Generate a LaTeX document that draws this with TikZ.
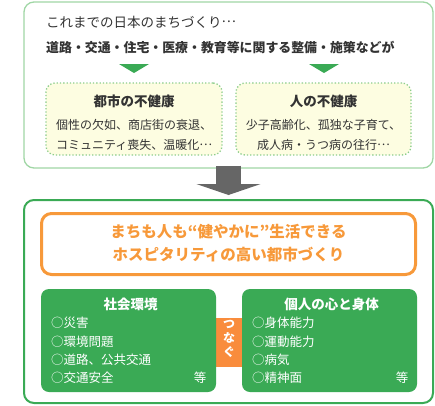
\documentclass[tikz,border=0pt]{standalone}
\usepackage{fontspec}
\setmainfont{Noto Sans CJK JP}
\newcommand\cjkdots{\raisebox{0.33em}{…}}
\usetikzlibrary{positioning, calc, arrows.meta}
\definecolor{palegreen}{RGB}{160,214,165}
\definecolor{leafgreen}{RGB}{58,170,85}
\definecolor{dotgreen}{RGB}{140,205,140}
\definecolor{creamfill}{RGB}{253,253,225}
\definecolor{townorange}{RGB}{247,153,58}
\definecolor{linkorange}{RGB}{249,140,60}
\definecolor{arrowgray}{RGB}{102,102,102}
\definecolor{inkgray}{RGB}{51,51,51}

\tikzset{
  pastbox/.style={draw=palegreen, line width=1.3pt, rounded corners=10pt,
                  minimum width=409pt, minimum height=166pt},
  futurebox/.style={draw=leafgreen, line width=2pt, rounded corners=10pt,
                  minimum width=409pt, minimum height=203pt},
  illbox/.style={draw=dotgreen, fill=creamfill, line width=1.3pt, dotted,
                  rounded corners=9pt, minimum width=176pt, minimum height=72pt},
  goalbox/.style={draw=townorange, line width=3pt, rounded corners=10pt,
                  minimum width=374pt, minimum height=61pt},
  sidebox/.style={fill=leafgreen, rounded corners=8pt,
                  minimum width=175pt, minimum height=103pt},
  linkbox/.style={fill=linkorange, minimum width=26pt, minimum height=49pt},
  downtri/.style={fill=leafgreen},
  bigarrow/.style={draw=arrowgray, line width=25pt,
                  -{Triangle[width=64pt,length=11pt]}},
  leadtxt/.style={text=inkgray, anchor=west, inner sep=0pt,
                  font=\fontsize{13.5pt}{16pt}\selectfont},
  causetxt/.style={text=inkgray, anchor=west, inner sep=0pt,
                  font=\fontsize{12.9pt}{16pt}\selectfont\bfseries},
  illtitle/.style={text=inkgray, inner sep=0pt,
                  font=\fontsize{13.5pt}{16pt}\selectfont\bfseries},
  illtxt/.style={text=inkgray, inner sep=0pt, align=center,
                  font=\fontsize{12pt}{20pt}\selectfont},
  goaltxt/.style={text=townorange, inner sep=0pt, align=center,
                  font=\fontsize{15.5pt}{23pt}\selectfont\bfseries},
  sidetitle/.style={text=white, inner sep=0pt,
                  font=\fontsize{13.5pt}{16pt}\selectfont\bfseries},
  sidelist/.style={text=white, inner sep=0pt, anchor=west, align=left,
                  font=\fontsize{12.5pt}{18.3pt}\selectfont},
  etctxt/.style={text=white, inner sep=0pt,
                  font=\fontsize{12.5pt}{16pt}\selectfont},
  linktxt/.style={text=white, inner sep=0pt, align=center,
                  font=\fontsize{12pt}{14pt}\selectfont\bfseries}
}

\begin{document}
\begin{tikzpicture}[x=1pt, y=-1pt]
    \useasboundingbox (0,0) rectangle (435,405);
    % Upper frame: town planning so far
    \node[pastbox] (past) at (228.5,85) {};
    \node[leadtxt] (lead) at (46,22) {これまでの日本のまちづくり\cjkdots};
    \node[causetxt] (cause) at (46,47) {道路・交通・住宅・医療・教育等に関する整備・施策などが};
    \fill[downtri] (119,64) -- (149,64) -- (134,73) -- cycle;
    \fill[downtri] (309,64) -- (339,64) -- (324,73) -- cycle;
    % Two kinds of ill health
    \node[illbox] (townill) at (134,119) {};
    \node[illbox, minimum width=175pt] (folkill) at (323.5,119) {};
    \node[illtitle] at (134,101) {都市の不健康};
    \node[illtxt] at (134,135) {個性の欠如、商店街の衰退、\\コミュニティ喪失、温暖化\cjkdots};
    \node[illtitle] at (323.5,101) {人の不健康};
    \node[illtxt] at (323.5,135) {少子高齢化、孤独な子育て、\\成人病・うつ病の往行\cjkdots};
    % Lower frame: the aim
    \node[futurebox] (future) at (228.5,301.5) {};
    \draw[bigarrow] ([yshift=3pt]past.south) -- ([yshift=4pt]future.north);
    \node[goalbox] (goal) at (228.5,244) {};
    \node[goaltxt] at (228.5,243.5) {まちも人も“健やかに”生活できる\\ホスピタリティの高い都市づくり};
    % Society and the person, linked
    \node[linkbox] (link) at (229,342.5) {};
    \node[sidebox] (society) at (128.5,340.5) {};
    \node[sidebox] (person) at (329.5,340.5) {};
    \node[linktxt] at (229,339) {つ\\な\\ぐ};
    \node[sidetitle] at (130.5,304) {社会環境};
    \node[sidelist] at (51,350.5) {○災害\\○環境問題\\○道路、公共交通\\○交通安全};
    \node[etctxt] at (200,378) {等};
    \node[sidetitle] at (331.5,304) {個人の心と身体};
    \node[sidelist] at (252,350.5) {○身体能力\\○運動能力\\○病気\\○精神面};
    \node[etctxt] at (402,378) {等};
\end{tikzpicture}
\end{document}
